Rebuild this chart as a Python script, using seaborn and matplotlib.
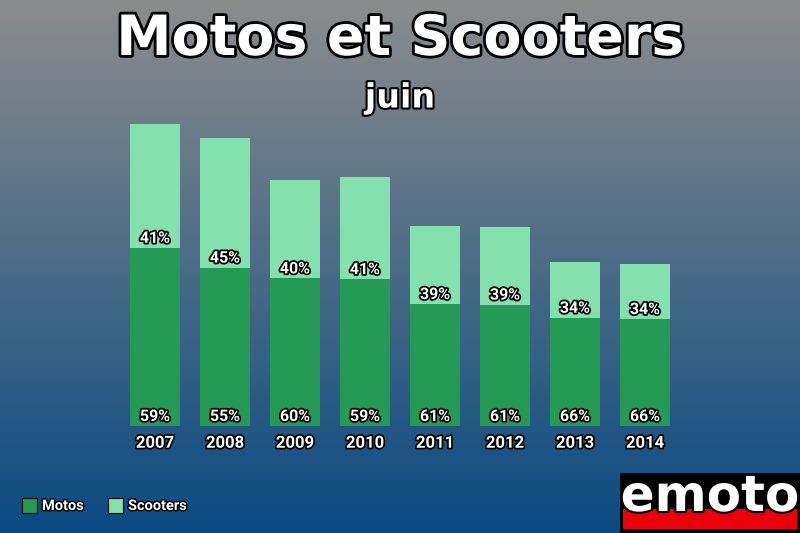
import numpy as np
import pandas as pd
import matplotlib
matplotlib.use("Agg")
import matplotlib.pyplot as plt
import matplotlib.patheffects as pe
import seaborn as sns

years = ["2007", "2008", "2009", "2010", "2011", "2012", "2013", "2014"]
totals = [302, 288, 246, 249, 200, 199, 164, 162]
motos_pct = [59, 55, 60, 59, 61, 61, 66, 66]
scoot_pct = [41, 45, 40, 41, 39, 39, 34, 34]

motos = [t * p / 100 for t, p in zip(totals, motos_pct)]
df = pd.DataFrame({"year": years, "total": totals, "motos": motos})

fig = plt.figure(figsize=(8, 5.33), dpi=100)
bg = fig.add_axes([0, 0, 1, 1])
grad = np.linspace(0, 1, 256).reshape(-1, 1)
top = np.array([0x8c, 0x8c, 0x8c]) / 255
bot = np.array([0x0a, 0x4a, 0x82]) / 255
img = top + (bot - top) * grad[..., None]
bg.imshow(np.repeat(img, 2, axis=1), aspect="auto", extent=[0, 1, 0, 1])
bg.set_axis_off()

ax = fig.add_axes([120 / 800, (533 - 426) / 533, 560 / 800, 310 / 533], label="bars")
ax.patch.set_alpha(0)
sns.barplot(data=df, x="year", y="total", color="#84e0ad", width=0.72, ax=ax, saturation=1)
sns.barplot(data=df, x="year", y="motos", color="#259a55", width=0.72, ax=ax, saturation=1)
ax.set_ylim(0, 310)
ax.set_xlim(-0.5, 7.5)
for s in ax.spines.values():
    s.set_visible(False)
ax.set_yticks([])
ax.set_xlabel("")
ax.set_ylabel("")
ax.tick_params(axis="x", length=0, pad=7)
for lab in ax.get_xticklabels():
    lab.set_color("white")
    lab.set_fontsize(12)
    lab.set_fontweight("bold")
    lab.set_fontfamily("Roboto")
    lab.set_path_effects([pe.withStroke(linewidth=2.5, foreground="black")])

stroke = [pe.withStroke(linewidth=2.5, foreground="black")]
for i in range(len(years)):
    ax.text(i, 2, f"{motos_pct[i]}%", ha="center", va="bottom", color="white",
            fontsize=11.5, fontweight="bold", family="Roboto", path_effects=stroke)
    ax.text(i, motos[i] + 2, f"{scoot_pct[i]}%", ha="center", va="bottom", color="white",
            fontsize=11.5, fontweight="bold", family="Roboto", path_effects=stroke)

fig.text(0.5, 1 - 40 / 533, "Motos et Scooters", ha="center", va="center", color="white",
         fontsize=40, fontweight="bold", family="DejaVu Sans",
         path_effects=[pe.withStroke(linewidth=4, foreground="black")])
fig.text(0.5, 1 - 98 / 533, "juin", ha="center", va="center", color="white",
         fontsize=24, fontweight="bold", family="DejaVu Sans",
         path_effects=[pe.withStroke(linewidth=3, foreground="black")])

# legend
for x0, col, name in [(22, "#259a55", "Motos"), (108, "#84e0ad", "Scooters")]:
    bg.add_patch(plt.Rectangle((x0 / 800, 1 - 513 / 533), 15 / 800, 15 / 533,
                               facecolor=col, edgecolor="black", lw=0.8))
    fig.text((x0 + 20) / 800, 1 - 506 / 533, name, ha="left", va="center", color="white",
             fontsize=10.5, fontweight="bold", family="Roboto",
             path_effects=[pe.withStroke(linewidth=2, foreground="black")])

# logo
bg.add_patch(plt.Rectangle((620 / 800, 0), 180 / 800, 60 / 533, facecolor="black"))
bg.add_patch(plt.Rectangle((623 / 800, 4 / 533), 174 / 800, 20 / 533, facecolor="#e8000b"))
fig.text(710 / 800, 1 - 497 / 533, "emoto", ha="center", va="center", color="white",
         fontsize=36, fontweight="bold", family="DejaVu Sans",
         path_effects=[pe.withStroke(linewidth=3, foreground="black")])

fig.savefig("out.png", dpi=100)
